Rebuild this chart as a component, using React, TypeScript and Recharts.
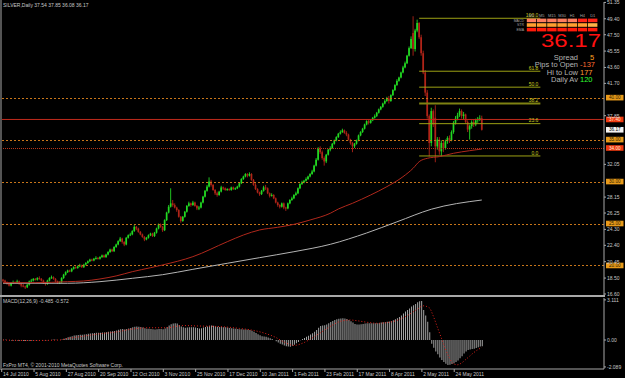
import React from 'react';
import { ComposedChart, Bar, Line, XAxis, YAxis, ReferenceLine } from 'recharts';

// ---------------- DATA ----------------
const dateLabels = ['14 Jul 2010', '5 Aug 2010', '27 Aug 2010', '20 Sep 2010', '12 Oct 2010', '3 Nov 2010', '25 Nov 2010', '17 Dec 2010', '10 Jan 2011', '1 Feb 2011', '23 Feb 2011', '17 Mar 2011', '8 Apr 2011', '2 May 2011', '24 May 2011'];
const dateTickBars = [0, 16, 32, 48, 64, 80, 96, 112, 128, 144, 160, 176, 192, 208, 224];

const opens = [18.3,18.2,18.0,17.8,17.6,17.9,18.0,17.9,18.1,17.8,
17.6,17.5,17.4,17.7,18.1,18.2,18.4,18.3,18.5,18.4,
18.2,17.9,17.8,18.2,18.5,18.6,18.4,18.1,17.9,18.0,
18.5,18.9,19.2,19.4,19.3,19.6,19.8,19.7,19.9,20.0,
19.8,20.1,20.3,20.5,20.7,20.6,20.8,20.9,20.8,21.0,
21.2,21.0,21.3,21.6,21.9,21.7,22.2,22.5,22.9,23.2,
22.8,22.5,23.3,23.6,23.7,24.1,24.6,24.4,24.0,23.7,
23.4,23.1,23.3,23.6,23.8,23.5,23.9,24.4,24.9,24.6,
24.2,25.4,26.3,27.0,27.4,27.2,26.9,26.6,25.8,25.3,
25.8,26.4,27.1,27.4,27.2,27.5,27.1,26.8,26.9,27.5,
28.2,28.9,29.4,30.0,29.6,29.0,28.6,28.4,28.8,29.3,
29.2,29.0,29.1,29.0,29.3,29.1,29.2,29.4,29.8,30.3,
30.6,30.9,30.7,30.9,30.2,29.6,29.1,28.7,28.5,28.9,
29.3,29.2,28.6,28.3,28.4,28.0,27.5,27.2,27.0,27.4,
26.9,26.8,27.4,27.8,28.0,28.4,28.6,29.2,29.7,29.9,
30.1,30.3,30.6,30.9,31.2,31.9,32.6,33.9,33.5,32.8,
32.4,33.2,33.8,34.0,34.5,34.9,35.3,35.7,35.9,36.1,
35.8,35.6,35.0,34.6,34.2,34.5,34.9,35.5,35.9,36.3,
36.8,37.2,37.0,37.3,37.6,37.8,38.2,38.6,38.9,39.3,
39.6,39.9,39.6,40.3,40.9,41.5,42.0,42.4,43.0,43.6,
44.1,45.0,45.9,47.7,45.8,48.0,48.9,47.2,45.3,43.0,
40.6,37.8,34.6,38.4,37.6,34.2,35.0,33.6,34.6,34.0,
34.8,35.2,34.9,35.9,37.0,37.5,37.9,38.4,37.8,38.0,
37.1,36.2,36.6,37.1,36.8,37.3,37.5,37.54];

const highs = [18.4,18.3,18.1,17.9,18.0,18.2,18.1,18.3,18.2,17.9,
17.8,17.6,17.8,18.2,18.4,18.5,18.5,18.6,18.7,18.5,
18.3,18.0,18.3,18.6,18.8,18.7,18.5,18.2,18.1,18.6,
19.0,19.3,19.5,19.5,19.7,19.9,19.9,20.0,20.2,20.1,
20.2,20.4,20.6,20.8,20.8,20.9,21.1,21.0,21.1,21.3,
21.3,21.4,21.7,22.0,22.0,22.3,22.6,23.0,23.4,23.3,
22.9,23.4,23.7,23.9,24.2,24.8,24.7,24.5,24.1,23.8,
23.5,23.4,23.7,23.9,23.9,24.0,24.5,25.0,25.0,24.7,
25.5,26.4,27.2,29.2,27.8,27.4,27.0,26.7,25.9,25.9,
26.5,27.2,27.6,27.5,27.7,27.6,27.2,27.1,27.6,28.3,
29.0,29.6,30.5,30.2,29.7,29.1,28.8,28.9,29.5,29.4,
29.3,29.2,29.2,29.4,29.4,29.3,29.5,29.9,30.4,30.7,
31.0,31.0,31.1,31.0,30.3,29.8,29.2,28.8,29.0,29.5,
29.6,29.3,28.7,28.6,28.5,28.1,27.6,27.3,27.5,27.5,
27.0,27.5,27.9,28.2,28.5,28.8,29.3,29.8,30.1,30.2,
30.5,30.7,31.0,31.4,32.0,32.8,34.1,34.2,33.7,33.0,
33.3,33.9,34.2,34.6,35.0,35.4,35.8,36.1,36.3,36.2,
36.0,35.7,35.1,34.7,34.6,35.0,35.6,36.0,36.4,36.9,
37.3,37.4,37.4,37.7,38.0,38.3,38.7,39.0,39.4,39.8,
40.1,40.2,40.4,41.0,41.6,42.2,42.5,43.1,43.8,44.3,
45.1,46.1,47.3,49.7,48.2,49.3,49.0,47.5,45.6,43.3,
40.9,38.0,38.8,38.6,39.1,35.3,35.3,34.9,34.9,35.0,
35.4,35.5,36.1,37.2,37.8,38.2,38.7,38.6,38.3,38.1,
37.3,36.8,37.3,37.4,37.5,37.7,37.9,37.85];

const lows = [18.0,17.9,17.7,17.5,17.5,17.8,17.8,17.8,17.7,17.4,
17.4,17.2,17.3,17.6,18.0,18.1,18.2,18.2,18.3,18.1,
17.8,17.6,17.7,18.1,18.4,18.3,18.0,17.8,17.8,17.9,
18.4,18.8,19.1,19.2,19.2,19.5,19.6,19.6,19.8,19.7,
19.7,20.0,20.2,20.4,20.5,20.5,20.7,20.7,20.7,20.9,
20.9,20.9,21.2,21.5,21.6,21.6,22.1,22.4,22.8,22.6,
22.3,22.4,23.2,23.5,23.6,24.0,24.2,23.9,23.6,23.3,
22.9,23.0,23.2,23.5,23.4,23.4,23.8,24.3,24.5,24.0,
24.1,25.3,26.2,26.9,27.0,26.8,26.4,25.7,25.1,25.2,
25.7,26.3,27.0,27.0,27.1,27.0,26.6,26.6,26.8,27.4,
28.1,28.8,29.3,29.4,28.9,28.4,28.2,28.3,28.7,29.0,
28.9,28.9,28.9,28.9,29.0,29.0,29.1,29.3,29.7,30.2,
30.5,30.5,30.6,30.1,29.5,29.0,28.6,28.3,28.4,28.8,
29.0,28.5,28.1,28.2,27.9,27.4,27.0,26.8,26.9,26.7,
26.5,26.7,27.3,27.7,27.9,28.3,28.5,29.1,29.6,29.8,
30.0,30.2,30.5,30.8,31.1,31.8,32.5,33.3,32.6,31.9,
32.2,33.1,33.6,33.9,34.4,34.8,35.2,35.6,35.8,35.7,
35.4,34.9,34.4,33.5,34.0,34.4,34.8,35.4,35.8,36.2,
36.7,36.8,36.9,37.2,37.5,37.7,38.1,38.5,38.8,39.2,
39.5,39.3,39.5,40.2,40.8,41.4,41.9,42.3,42.9,43.5,
44.0,44.9,45.8,45.0,45.5,47.8,47.0,45.0,42.8,40.2,
37.5,33.0,34.2,36.5,32.3,33.8,33.2,33.0,33.5,33.8,
34.5,34.6,34.8,35.7,36.8,37.3,37.7,37.5,37.4,36.9,
35.9,35.0,36.3,36.5,36.6,37.0,37.2,36.08];

const closes = [18.2,18.0,17.8,17.6,17.9,18.0,17.9,18.1,17.8,17.6,
17.5,17.4,17.7,18.1,18.2,18.4,18.3,18.5,18.4,18.2,
17.9,17.8,18.2,18.5,18.6,18.4,18.1,17.9,18.0,18.5,
18.9,19.2,19.4,19.3,19.6,19.8,19.7,19.9,20.0,19.8,
20.1,20.3,20.5,20.7,20.6,20.8,20.9,20.8,21.0,21.2,
21.0,21.3,21.6,21.9,21.7,22.2,22.5,22.9,23.2,22.8,
22.5,23.3,23.6,23.7,24.1,24.6,24.4,24.0,23.7,23.4,
23.1,23.3,23.6,23.8,23.5,23.9,24.4,24.9,24.6,24.2,
25.4,26.3,27.0,27.4,27.2,26.9,26.6,25.8,25.3,25.8,
26.4,27.1,27.4,27.2,27.5,27.1,26.8,26.9,27.5,28.2,
28.9,29.4,30.0,29.6,29.0,28.6,28.4,28.8,29.3,29.2,
29.0,29.1,29.0,29.3,29.1,29.2,29.4,29.8,30.3,30.6,
30.9,30.7,30.9,30.2,29.6,29.1,28.7,28.5,28.9,29.3,
29.2,28.6,28.3,28.4,28.0,27.5,27.2,27.0,27.4,26.9,
26.8,27.4,27.8,28.0,28.4,28.6,29.2,29.7,29.9,30.1,
30.3,30.6,30.9,31.2,31.9,32.6,33.9,33.5,32.8,32.4,
33.2,33.8,34.0,34.5,34.9,35.3,35.7,35.9,36.1,35.8,
35.6,35.0,34.6,34.2,34.5,34.9,35.5,35.9,36.3,36.8,
37.2,37.0,37.3,37.6,37.8,38.2,38.6,38.9,39.3,39.6,
39.9,39.6,40.3,40.9,41.5,42.0,42.4,43.0,43.6,44.1,
45.0,45.9,47.0,45.8,48.0,48.9,47.2,45.3,43.0,40.6,
37.8,34.6,38.4,36.8,34.2,35.0,33.6,34.6,34.0,34.8,
35.2,34.9,35.9,37.0,37.5,37.9,38.4,37.8,38.0,37.1,
36.2,36.6,37.1,36.8,37.3,37.5,37.54,36.17];

// moving averages, read at bar indices [bar, value]
const maRedPts: [number, number][] = [[0,17.95],[16,17.95],[32,18.07],[40,18.15],[48,18.39],[56,18.75],[64,19.26],[73,19.73],[79,20.06],[94,21.05],[111,22.83],[119,23.63],[127,24.23],[136,24.55],[144,24.9],[152,25.42],[162,26.22],[166,26.73],[173,27.41],[182,28.4],[190,29.39],[198,30.58],[203,31.58],[206,32.37],[210,32.77],[216,32.97],[223,33.37],[231,33.68],[237,33.88]];
const maWhitePts: [number, number][] = [[0,17.88],[32,17.88],[48,18.07],[64,18.47],[79,18.9],[94,19.54],[111,20.26],[127,20.93],[144,21.64],[162,22.52],[180,23.87],[195,25.2],[212,26.7],[237,27.8]];

const macdHist = [0.02,0.01,0.0,-0.02,-0.03,-0.03,-0.04,-0.04,-0.05,-0.06,
-0.07,-0.08,-0.08,-0.06,-0.05,-0.03,-0.02,-0.01,0.0,0.0,
-0.02,-0.03,-0.02,0.0,0.02,0.03,0.02,0.0,0.0,0.04,
0.1,0.16,0.22,0.26,0.3,0.34,0.36,0.38,0.4,0.4,
0.42,0.45,0.48,0.51,0.52,0.54,0.56,0.56,0.57,0.59,
0.58,0.6,0.63,0.66,0.67,0.7,0.74,0.79,0.84,0.85,
0.82,0.86,0.9,0.94,0.98,1.03,1.05,1.03,1.0,0.96,
0.91,0.88,0.87,0.86,0.83,0.82,0.83,0.86,0.86,0.83,
0.9,1.0,1.12,1.22,1.28,1.3,1.27,1.17,1.05,0.98,
0.95,0.97,0.99,0.99,0.99,0.97,0.93,0.9,0.92,0.96,
1.0,1.05,1.1,1.12,1.1,1.06,1.02,1.0,1.0,0.99,
0.98,0.96,0.94,0.92,0.9,0.88,0.86,0.84,0.83,0.82,
0.82,0.8,0.77,0.72,0.64,0.55,0.45,0.36,0.3,0.27,
0.25,0.2,0.13,0.07,0.0,-0.1,-0.2,-0.3,-0.35,-0.42,
-0.48,-0.5,-0.52,-0.45,-0.36,-0.26,-0.15,-0.02,0.08,0.16,
0.25,0.33,0.42,0.52,0.64,0.78,0.95,1.08,1.12,1.14,
1.2,1.3,1.4,1.48,1.55,1.6,1.64,1.67,1.68,1.66,
1.62,1.55,1.45,1.35,1.25,1.2,1.2,1.22,1.25,1.28,
1.3,1.3,1.3,1.3,1.3,1.3,1.32,1.35,1.38,1.4,
1.42,1.44,1.48,1.53,1.6,1.68,1.78,1.9,2.05,2.2,
2.33,2.45,2.6,2.7,2.8,2.92,3.0,3.02,2.33,1.9,
1.42,0.6,-0.3,-0.6,-0.9,-1.1,-1.35,-1.55,-1.7,-1.85,
-1.94,-1.92,-1.86,-1.8,-1.7,-1.58,-1.42,-1.25,-1.05,-0.9,
-0.78,-0.74,-0.7,-0.68,-0.62,-0.56,-0.5,-0.485];

const signalPts: [number, number][] = [[0,0.0],[14,-0.04],[28,0.0],[32,0.12],[40,0.3],[48,0.48],[56,0.62],[64,0.85],[73,0.95],[81,0.95],[89,1.12],[98,1.08],[104,1.06],[111,1.0],[117,0.9],[122,0.8],[129,0.55],[135,0.2],[139,-0.15],[144,-0.42],[149,-0.2],[153,0.15],[158,0.65],[163,1.15],[167,1.45],[172,1.55],[175,1.5],[180,1.38],[185,1.3],[190,1.35],[195,1.52],[200,1.88],[205,2.38],[208,2.65],[211,2.5],[213,1.85],[215,1.0],[217,0.15],[219,-0.7],[221,-1.4],[223,-1.85],[225,-1.92],[227,-1.78],[229,-1.52],[231,-1.25],[233,-0.98],[235,-0.76],[237,-0.572]];

const priceTicks = [51.35, 49.40, 47.50, 45.55, 43.60, 41.70, 37.85, 32.05, 28.15, 26.25, 24.30, 22.40, 20.45, 18.50, 16.60];
const roundLevels = [40, 35, 30, 25, 20];
const openLineLevel = 37.4;
const bidPrice = 36.17;
const supportLevel = 34.0;
const fibLevels: { label: string; price: number }[] = [
  { label: '100.0', price: 49.46 },
  { label: '61.8', price: 43.15 },
  { label: '50.0', price: 41.25 },
  { label: '38.2', price: 39.3 },
  { label: '23.6', price: 36.9 },
  { label: '0.0', price: 33.05 },
];
const fibFromBar = 206;
const fibToBar = 266;
const macdTicks = [3.111, 0, -2.089];
const macdTickLabels = ['3.111', '0.00', '-2.089'];

const panelCols = ['M1', 'M5', 'M15', 'M30', 'H1', 'H4', 'D1'];
const panelRows = ['MACD', 'STR', 'EMA'];
const panelColors = [
  ['#FF7D5E', '#FF7D5E', '#FF7D5E', '#FF7D5E', '#FF7D5E', '#FF2418', '#FF2418'],
  ['#FFA030', '#FFA030', '#FFA030', '#FFA030', '#FFA030', '#FFA030', '#FFB347'],
  ['#FF1A0A', '#FF1A0A', '#FF1A0A', '#FF1A0A', '#FF1A0A', '#FF1A0A', '#FF1A0A'],
];

// ---------------- STYLE ----------------
const FONT = '"Liberation Sans", Arial, sans-serif';
const FRAME = '#A8A8A8';
const TXT = '#C8C8C8';
const BULL = '#22D822';
const BEAR = '#B02418';
const ORANGE_LINE = '#C8761A';
const ORANGE_BOX = '#E89A1A';
const RED_BOX = '#F03A10';
const FIB = '#9CA014';
const SLOTS = 298;

const redMap = new Map(maRedPts);
const whiteMap = new Map(maWhitePts);
const sigMap = new Map(signalPts);

const rows = Array.from({ length: SLOTS }, (_, i) => {
  const has = i < closes.length;
  return {
    i,
    range: has ? [lows[i], highs[i]] : null,
    o: has ? opens[i] : null,
    h: has ? highs[i] : null,
    l: has ? lows[i] : null,
    c: has ? closes[i] : null,
    maRed: redMap.has(i) ? redMap.get(i) : null,
    maWhite: whiteMap.has(i) ? whiteMap.get(i) : null,
    macd: has ? macdHist[i] : null,
    signal: sigMap.has(i) ? sigMap.get(i) : null,
  };
});

const Candle = (props: any) => {
  const { x, y, width, height, payload } = props;
  if (!payload || payload.h == null || x == null) return <g />;
  const { o, c, h, l } = payload;
  const top = Math.min(y, y + height);
  const hgt = Math.abs(height);
  const k = h - l > 0 ? hgt / (h - l) : 0;
  const yO = top + (h - o) * k;
  const yC = top + (h - c) * k;
  const col = c >= o ? BULL : BEAR;
  const cx = x + width / 2;
  const bTop = Math.min(yO, yC);
  const bH = Math.max(Math.abs(yO - yC), 1);
  return (
    <g>
      <line x1={cx} x2={cx} y1={top} y2={top + Math.max(hgt, 1)} stroke={col} strokeWidth={0.9} />
      <rect x={cx - 0.85} y={bTop} width={1.7} height={bH} fill={col} />
    </g>
  );
};

// dotted level line drawn with an explicit colour (snapped to a pixel row)
const dottedShape = (color: string, dash: string) => (p: any) => {
  const yy = Math.round(p.y1 ?? 0) + 0.5;
  return <line x1={p.x1} x2={p.x2} y1={yy} y2={yy} stroke={color} strokeWidth={1} strokeDasharray={dash} />;
};

const PriceTick = (props: any) => {
  const { x, y, payload } = props;
  return (
    <text x={x} y={y} fill={TXT} fontSize={5} fontFamily={FONT} dominantBaseline="central">
      {Number(payload.value).toFixed(2)}
    </text>
  );
};

const MacdTick = (props: any) => {
  const { x, y, payload } = props;
  const idx = macdTicks.indexOf(payload.value);
  return (
    <text x={x} y={y} fill={TXT} fontSize={5} fontFamily={FONT} dominantBaseline="central">
      {idx >= 0 ? macdTickLabels[idx] : ''}
    </text>
  );
};

const DateTick = (props: any) => {
  const { x, y, payload } = props;
  const idx = dateTickBars.indexOf(payload.value);
  if (idx < 0) return <g />;
  return (
    <g>
      <line x1={x - 1.3} x2={x - 1.3} y1={y} y2={y + 3} stroke={FRAME} strokeWidth={1} />
      <text x={x} y={y + 7} fill={TXT} fontSize={5} fontFamily={FONT}>
        {dateLabels[idx]}
      </text>
    </g>
  );
};

const boxLabel = (text: string, bg: string, fg: string) => (props: any) => {
  const vb = props.viewBox || {};
  const x = (vb.x ?? 0) + (vb.width ?? 0) + 2;
  const y = vb.y ?? 0;
  return (
    <g>
      <rect x={x} y={y - 2.8} width={17.5} height={5.6} fill={bg} />
      <text x={x + 8.75} y={y + 0.2} textAnchor="middle" dominantBaseline="central" fontSize={4.6} fontFamily={FONT} fill={fg}>
        {text}
      </text>
    </g>
  );
};

const fibLabel = (text: string) => (props: any) => {
  const vb = props.viewBox || {};
  const right = (vb.x ?? 0) + (vb.width ?? 0);
  const y = vb.y ?? 0;
  return (
    <text x={right - 2} y={y - 1.2} textAnchor="end" fontSize={5} fontFamily={FONT} fill="#C8C820">
      {text}
    </text>
  );
};

export default function App() {
  return (
    <div style={{ position: 'absolute', left: 0, top: 0, width: 625, height: 378, background: '#000', overflow: 'hidden' }}>
      <div style={{ position: 'absolute', left: 0, top: 0 }}>
        <ComposedChart width={625} height={297} data={rows} margin={{ top: 2, right: 0, bottom: 2, left: 2 }}>
          <XAxis dataKey="i" type="category" hide />
          <YAxis
            orientation="right"
            width={21}
            domain={[16.48, 51.4]}
            allowDataOverflow
            ticks={priceTicks}
            interval={0}
            tick={PriceTick}
            tickSize={2}
            tickMargin={1}
            tickLine={{ stroke: FRAME }}
            axisLine={{ stroke: FRAME }}
          />
          {roundLevels.map((v) => (
            <ReferenceLine
              key={v}
              y={v}
              stroke={ORANGE_LINE}
              shape={dottedShape(ORANGE_LINE, '2 2')}
              label={boxLabel(v.toFixed(2), ORANGE_BOX, '#2A1A00')}
            />
          ))}
          <ReferenceLine
            y={supportLevel}
            stroke="#B83418"
            shape={dottedShape('#B83418', '1 1')}
            label={boxLabel(supportLevel.toFixed(2), RED_BOX, '#FFE8D8')}
          />
          <ReferenceLine y={openLineLevel} stroke="#C02A1C" label={boxLabel(openLineLevel.toFixed(2), RED_BOX, '#FFE8D8')} />
          <ReferenceLine y={bidPrice} stroke="none" strokeOpacity={0} label={boxLabel(bidPrice.toFixed(2), '#F4F4F4', '#000')} />
          {fibLevels.map((f) => (
            <ReferenceLine
              key={f.label}
              segment={[{ x: fibFromBar, y: f.price }, { x: fibToBar, y: f.price }]}
              stroke={f.label === '38.2' ? '#7E8212' : FIB}
              strokeWidth={f.label === '38.2' ? 2 : 1}
              label={fibLabel(f.label)}
            />
          ))}
          <Line dataKey="maWhite" type="monotone" stroke="#B4B4B4" strokeWidth={1} dot={false} connectNulls isAnimationActive={false} />
          <Line dataKey="maRed" type="monotone" stroke="#B0281C" strokeWidth={1} dot={false} connectNulls isAnimationActive={false} />
          <Bar dataKey="range" barSize={2} shape={Candle} isAnimationActive={false} />
        </ComposedChart>
      </div>
      <div style={{ position: 'absolute', left: 0, top: 297 }}>
        <ComposedChart width={625} height={81} data={rows} margin={{ top: 1, right: 0, bottom: 0, left: 2 }}>
          <XAxis
            dataKey="i"
            type="category"
            height={9}
            ticks={dateTickBars}
            interval={0}
            tick={DateTick}
            tickSize={0}
            tickMargin={0}
            tickLine={false}
            axisLine={{ stroke: FRAME }}
          />
          <YAxis
            orientation="right"
            width={21}
            domain={[-2.248, 3.256]}
            allowDataOverflow
            ticks={macdTicks}
            interval={0}
            tick={MacdTick}
            tickSize={2}
            tickMargin={1}
            tickLine={{ stroke: FRAME }}
            axisLine={{ stroke: FRAME }}
          />
          <Bar dataKey="macd" barSize={1} fill="#A6A6A6" isAnimationActive={false} />
          <Line dataKey="signal" type="monotone" stroke="#E0221A" strokeWidth={1} strokeDasharray="1 2" dot={false} connectNulls isAnimationActive={false} />
        </ComposedChart>
      </div>
      <svg width={625} height={378} style={{ position: 'absolute', left: 0, top: 0, pointerEvents: 'none' }}>
        <line x1={1} x2={1} y1={0} y2={370} stroke={FRAME} strokeWidth={1} />
        <rect x={0} y={295} width={605} height={2} fill={FRAME} />
        <text x={3} y={7} fontSize={5} fontFamily={FONT} fill={TXT}>SILVER,Daily  37.54 37.85 36.08 36.17</text>
        <text x={3} y={303} fontSize={5} fontFamily={FONT} fill={TXT}>MACD(12,26,9) -0.485 -0.572</text>
        <text x={3} y={367} fontSize={5} fontFamily={FONT} fill={TXT}>FxPro MT4, © 2001-2010 MetaQuotes Software Corp.</text>
        {panelCols.map((c, ci) => (
          <text key={c} x={531.5 + ci * 10.2} y={16.5} fontSize={4} textAnchor="middle" fontFamily={FONT} fill="#A0A0A0">{c}</text>
        ))}
        {panelRows.map((r, ri) => (
          <g key={r}>
            <text x={524} y={21.7 + ri * 4.6} fontSize={3.5} textAnchor="end" fontFamily={FONT} fill="#A0A0A0">{r}</text>
            {panelCols.map((c, ci) => (
              <rect key={c} x={526.8 + ci * 10.2} y={18.6 + ri * 4.6} width={9.4} height={3.6} fill={panelColors[ri][ci]} />
            ))}
          </g>
        ))}
        <text x={541} y={46.7} fontSize={19} fontFamily={FONT} fill="#FF1010" textLength={60} lengthAdjust="spacingAndGlyphs">36.17</text>
        <text x={578} y={60} fontSize={7.5} textAnchor="end" fontFamily={FONT} fill="#B4B4B4">Spread</text>
        <text x={590} y={60} fontSize={7.5} fontFamily={FONT} fill="#FFA020">5</text>
        <text x={578} y={67.3} fontSize={7.5} textAnchor="end" fontFamily={FONT} fill="#B4B4B4">Pips to Open</text>
        <text x={580} y={67.3} fontSize={7.5} fontFamily={FONT} fill="#FF6A30">-137</text>
        <text x={578} y={74.6} fontSize={7.5} textAnchor="end" fontFamily={FONT} fill="#B4B4B4">Hi to Low</text>
        <text x={580} y={74.6} fontSize={7.5} fontFamily={FONT} fill="#FF9A30">177</text>
        <text x={578} y={81.9} fontSize={7.5} textAnchor="end" fontFamily={FONT} fill="#B4B4B4">Daily Av</text>
        <text x={580} y={81.9} fontSize={7.5} fontFamily={FONT} fill="#30FF30">120</text>
      </svg>
    </div>
  );
}
